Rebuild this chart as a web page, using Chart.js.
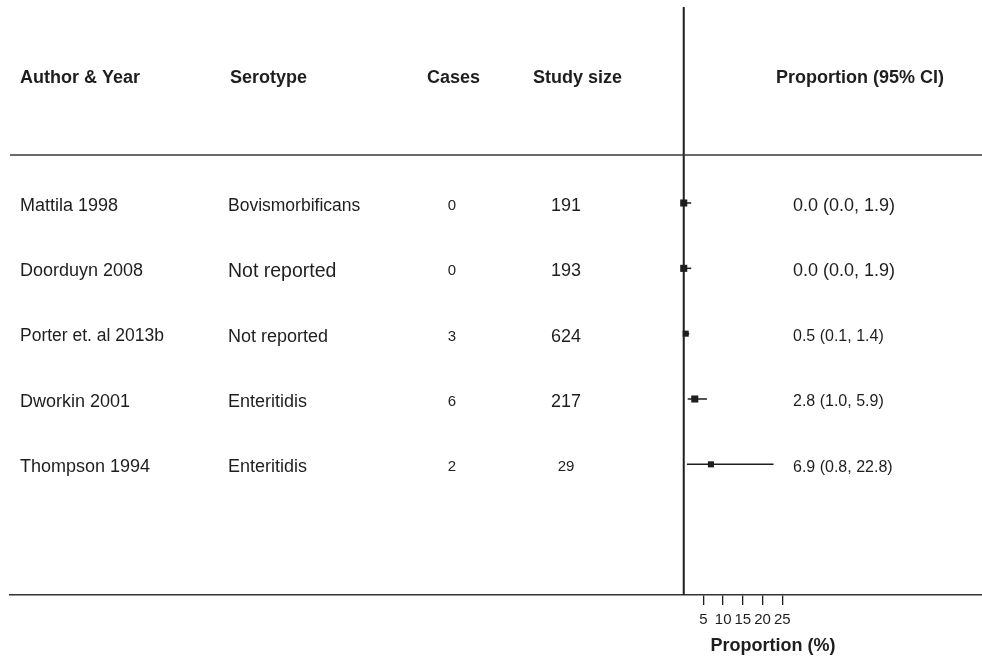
<!DOCTYPE html>
<html>
<head>
<meta charset="utf-8">
<script src="https://cdn.jsdelivr.net/npm/chart.js@4.4.1/dist/chart.umd.min.js"></script>
<style>
  html, body { margin: 0; padding: 0; background: #ffffff; }
  #wrap { width: 982px; height: 659px; }
</style>
</head>
<body>
<div id="wrap"><canvas id="forest" width="982" height="659"></canvas></div>
<script>
// Study table
const studies    = ['Mattila 1998', 'Doorduyn 2008', 'Porter et. al 2013b', 'Dworkin 2001', 'Thompson 1994'];
const serotypes  = ['Bovismorbificans', 'Not reported', 'Not reported', 'Enteritidis', 'Enteritidis'];
const cases      = [0, 0, 3, 6, 2];
const studySize  = [191, 193, 624, 217, 29];

// Proportion (%) with 95% confidence interval
const proportion = [0.0, 0.0, 0.5, 2.8, 6.9];
const lowerCI    = [0.0, 0.0, 0.1, 1.0, 0.8];
const upperCI    = [1.9, 1.9, 1.4, 5.9, 22.8];

// Axis and header labels
const xTicks     = [5, 10, 15, 20, 25];
const headers    = ['Author & Year', 'Serotype', 'Cases', 'Study size', 'Proportion (95% CI)'];
const xAxisTitle = 'Proportion (%)';

// Styling
const FONT = '"Liberation Sans", Arial, Helvetica, sans-serif';
const NARROW = '"Liberation Sans Narrow", "Liberation Sans", Arial, sans-serif';
const INK = '#1e1e1e';
const markerRadius = [5, 5, 4.3, 5, 4.3];
const rowSizes = {            // font size per row for each text column
  study:    [18, 18, 17.5, 18, 18],
  serotype: [17.5, 19.5, 18, 18, 18],
  cases:    [15, 15, 15, 15, 15],
  size:     [18, 18, 18, 18, 15],
  ci:       [18, 18, 16, 16, 16]
};

const rows = studies.map((_, i) => i + 1);

function fmt(v) { return v.toFixed(1); }

const forestTable = {
  id: 'forestTable',
  beforeDatasetsDraw(chart) {
    const { ctx, chartArea, scales: { x, y } } = chart;
    ctx.save();
    // line of no effect at 0
    const x0 = x.getPixelForValue(0);
    ctx.strokeStyle = INK;
    ctx.lineWidth = 2;
    ctx.beginPath();
    ctx.moveTo(x0, chartArea.top);
    ctx.lineTo(x0, chartArea.bottom);
    ctx.stroke();
    // rule under the header
    ctx.strokeStyle = '#3a3a3a';
    ctx.lineWidth = 1.5;
    ctx.beginPath();
    ctx.moveTo(chartArea.left, 155);
    ctx.lineTo(chartArea.right, 155);
    ctx.stroke();
    // confidence intervals
    ctx.strokeStyle = INK;
    ctx.lineWidth = 1.5;
    rows.forEach((r, i) => {
      const py = y.getPixelForValue(r);
      ctx.beginPath();
      ctx.moveTo(x.getPixelForValue(lowerCI[i]), py);
      ctx.lineTo(x.getPixelForValue(upperCI[i]), py);
      ctx.stroke();
    });
    ctx.restore();
  },
  afterDraw(chart) {
    const { ctx, scales: { x, y } } = chart;
    ctx.save();
    ctx.fillStyle = INK;

    // header row
    const hy = 83;
    ctx.textBaseline = 'alphabetic';
    ctx.font = 'bold 18px ' + FONT;
    ctx.textAlign = 'left';
    ctx.fillText(headers[0], 20, hy);
    ctx.fillText(headers[1], 230, hy);
    ctx.fillText(headers[2], 427, hy);
    ctx.fillText(headers[3], 533, hy);
    ctx.textAlign = 'center';
    ctx.fillText(headers[4], 860, hy);

    // study rows
    ctx.textBaseline = 'middle';
    rows.forEach((r, i) => {
      const py = y.getPixelForValue(r) + 3;
      ctx.textAlign = 'left';
      ctx.font = rowSizes.study[i] + 'px ' + FONT;
      ctx.fillText(studies[i], 20, py);
      ctx.font = rowSizes.serotype[i] + 'px ' + FONT;
      ctx.fillText(serotypes[i], 228, py);
      ctx.textAlign = 'center';
      ctx.font = rowSizes.cases[i] + 'px ' + NARROW;
      ctx.fillText(String(cases[i]), 452, py);
      ctx.font = rowSizes.size[i] + 'px ' + (i === 4 ? NARROW : FONT);
      ctx.fillText(String(studySize[i]), 566, py);
      ctx.textAlign = 'left';
      ctx.font = rowSizes.ci[i] + 'px ' + FONT;
      ctx.fillText(fmt(proportion[i]) + ' (' + fmt(lowerCI[i]) + ', ' + fmt(upperCI[i]) + ')', 793, py);
    });

    // x-axis title
    ctx.textAlign = 'center';
    ctx.font = 'bold 18px ' + FONT;
    ctx.fillText(xAxisTitle, 773, 646);
    ctx.restore();
  }
};

new Chart(document.getElementById('forest'), {
  type: 'scatter',
  data: {
    datasets: [{
      data: proportion.map((p, i) => ({ x: p, y: rows[i] })),
      pointStyle: 'rect',
      pointRadius: markerRadius,
      backgroundColor: INK,
      borderWidth: 0
    }]
  },
  options: {
    responsive: false,
    animation: false,
    events: [],
    layout: { autoPadding: false, padding: { left: 10, top: 7, right: 0, bottom: 0 } },
    plugins: { legend: { display: false }, tooltip: { enabled: false } },
    scales: {
      x: {
        type: 'linear',
        min: -171,
        max: 75.7,
        afterBuildTicks: (scale) => { scale.ticks = xTicks.map(v => ({ value: v })); },
        afterFit: (scale) => { scale.height = 64; scale.paddingLeft = 0; scale.paddingRight = 0; },
        grid: { display: true, drawOnChartArea: false, drawTicks: true, tickLength: 10, color: INK, lineWidth: 1.3 },
        border: { display: true, color: '#333333', width: 1.5 },
        ticks: {
          autoSkip: false, maxRotation: 0, padding: 6, color: INK,
          font: { family: FONT, size: 15 },
          callback: (v) => String(v)
        }
      },
      y: { display: false, min: -2, max: 7, reverse: true }
    }
  },
  plugins: [forestTable]
});
</script>
</body>
</html>
